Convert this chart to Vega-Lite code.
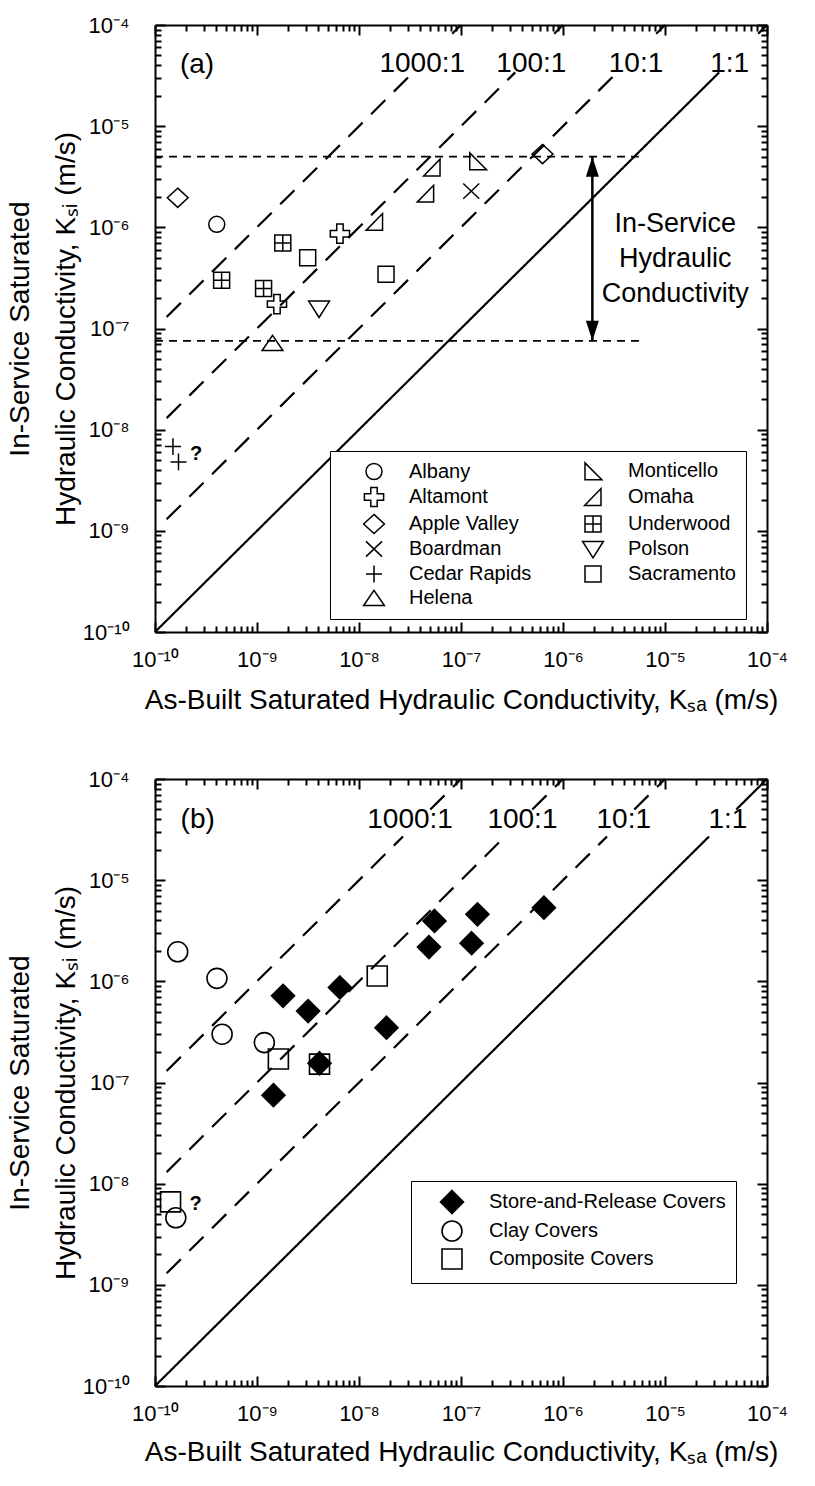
{
  "$schema": "https://vega.github.io/schema/vega-lite/v6.json",
  "padding": {"left": 6, "top": 14, "right": 5, "bottom": 5},
  "spacing": 54,
  "resolve": {"scale": {"shape": "independent", "strokeDash": "independent"}, "legend": {"shape": "independent"}},
  "config": {
    "font": "Liberation Sans",
    "view": {"stroke": null},
    "axis": {"domainColor": "black", "domainWidth": 2, "tickColor": "black", "tickWidth": 2, "labelColor": "black", "titleColor": "black", "labelFontSize": 22, "titleFontSize": 28, "titleFontWeight": "normal", "grid": false, "labelOverlap": false, "labelFlush": false}
  },
  "vconcat": [
    {
      "width": 612,
      "height": 607,
      "resolve": {"axis": {"x": "independent", "y": "independent"}},
      "layer": [
        {
          "data": {"values": [
            {"seg": "a1", "style": "solid", "x": 1e-10, "y": 1e-10}, {"seg": "a1", "style": "solid", "x": 3.4e-5, "y": 3.4e-5},
            {"seg": "a2", "style": "solid", "x": 8.2e-5, "y": 8.2e-5}, {"seg": "a2", "style": "solid", "x": 1e-4, "y": 1e-4},
            {"seg": "b1", "style": "dashed", "x": 1.3e-10, "y": 1.3e-9}, {"seg": "b1", "style": "dashed", "x": 3.4e-6, "y": 3.4e-5},
            {"seg": "b2", "style": "dashed", "x": 8.2e-6, "y": 8.2e-5}, {"seg": "b2", "style": "dashed", "x": 1e-5, "y": 1e-4},
            {"seg": "c1", "style": "dashed", "x": 1.3e-10, "y": 1.3e-8}, {"seg": "c1", "style": "dashed", "x": 3.4e-7, "y": 3.4e-5},
            {"seg": "c2", "style": "dashed", "x": 8.2e-7, "y": 8.2e-5}, {"seg": "c2", "style": "dashed", "x": 1e-6, "y": 1e-4},
            {"seg": "d1", "style": "dashed", "x": 1.3e-10, "y": 1.3e-7}, {"seg": "d1", "style": "dashed", "x": 3.4e-8, "y": 3.4e-5},
            {"seg": "d2", "style": "dashed", "x": 8.2e-8, "y": 8.2e-5}, {"seg": "d2", "style": "dashed", "x": 1e-7, "y": 1e-4}
          ]},
          "mark": {"type": "line", "color": "black", "strokeWidth": 2.2},
          "encoding": {
            "x": {"field": "x", "type": "quantitative", "scale": {"type": "log", "domain": [1e-10, 1e-4], "nice": false},
              "axis": {"orient": "bottom", "values": [1e-10,2e-10,3e-10,4e-10,5e-10,6e-10,7e-10,8e-10,9e-10,1e-9,2e-9,3e-9,4e-9,5e-9,6e-9,7e-9,8e-9,9e-9,1e-8,2e-8,3e-8,4e-8,5e-8,6e-8,7e-8,8e-8,9e-8,1e-7,2e-7,3e-7,4e-7,5e-7,6e-7,7e-7,8e-7,9e-7,1e-6,2e-6,3e-6,4e-6,5e-6,6e-6,7e-6,8e-6,9e-6,1e-5,2e-5,3e-5,4e-5,5e-5,6e-5,7e-5,8e-5,9e-5,1e-4],
                "labelExpr": "abs(log(datum.value)/LN10 - round(log(datum.value)/LN10)) < 0.001 ? '10' + ['⁻¹⁰','⁻⁹','⁻⁸','⁻⁷','⁻⁶','⁻⁵','⁻⁴'][round(log(datum.value)/LN10) + 10] : ''",
                "tickSize": {"condition": {"test": "abs(log(datum.value)/LN10 - round(log(datum.value)/LN10)) < 0.001", "value": -10}, "value": -6},
                "labelFontSize": 22, "labelPadding": 27, "title": "As-Built Saturated Hydraulic Conductivity, Kₛₐ (m/s)", "titlePadding": 12}},
            "y": {"field": "y", "type": "quantitative", "scale": {"type": "log", "domain": [1e-10, 1e-4], "nice": false},
              "axis": {"orient": "left", "values": [1e-10,2e-10,3e-10,4e-10,5e-10,6e-10,7e-10,8e-10,9e-10,1e-9,2e-9,3e-9,4e-9,5e-9,6e-9,7e-9,8e-9,9e-9,1e-8,2e-8,3e-8,4e-8,5e-8,6e-8,7e-8,8e-8,9e-8,1e-7,2e-7,3e-7,4e-7,5e-7,6e-7,7e-7,8e-7,9e-7,1e-6,2e-6,3e-6,4e-6,5e-6,6e-6,7e-6,8e-6,9e-6,1e-5,2e-5,3e-5,4e-5,5e-5,6e-5,7e-5,8e-5,9e-5,1e-4],
                "labelExpr": "abs(log(datum.value)/LN10 - round(log(datum.value)/LN10)) < 0.001 ? '10' + ['⁻¹⁰','⁻⁹','⁻⁸','⁻⁷','⁻⁶','⁻⁵','⁻⁴'][round(log(datum.value)/LN10) + 10] : ''",
                "tickSize": {"condition": {"test": "abs(log(datum.value)/LN10 - round(log(datum.value)/LN10)) < 0.001", "value": -10}, "value": -6},
                "labelFontSize": 22, "labelPadding": 36, "title": ["In-Service Saturated", "Hydraulic Conductivity, Kₛᵢ (m/s)"], "titleLineHeight": 46, "titlePadding": 2}},
            "detail": {"field": "seg"},
            "strokeDash": {"field": "style", "type": "nominal", "scale": {"domain": ["solid", "dashed"], "range": [[1, 0], [20, 12]]}, "legend": null}
          }
        },
        {
          "data": {"values": [
            {"city": "Albany", "x": 4.03e-10, "y": 1.07e-6},
            {"city": "Altamont", "x": 6.5e-9, "y": 8.65e-7},
            {"city": "Altamont", "x": 1.57e-9, "y": 1.74e-7},
            {"city": "Apple Valley", "x": 1.67e-10, "y": 1.96e-6},
            {"city": "Apple Valley", "x": 6.3e-7, "y": 5.3e-6},
            {"city": "Boardman", "x": 1.26e-7, "y": 2.28e-6},
            {"city": "Cedar Rapids", "x": 1.5e-10, "y": 6.8e-9},
            {"city": "Cedar Rapids", "x": 1.7e-10, "y": 4.8e-9},
            {"city": "Helena", "x": 1.42e-9, "y": 7.2e-8},
            {"city": "Monticello", "x": 1.46e-7, "y": 4.5e-6},
            {"city": "Omaha", "x": 5.2e-8, "y": 3.9e-6},
            {"city": "Omaha", "x": 4.5e-8, "y": 2.15e-6},
            {"city": "Omaha", "x": 1.42e-8, "y": 1.13e-6},
            {"city": "Underwood", "x": 1.79e-9, "y": 7.0e-7},
            {"city": "Underwood", "x": 4.5e-10, "y": 3.0e-7},
            {"city": "Underwood", "x": 1.16e-9, "y": 2.48e-7},
            {"city": "Polson", "x": 4.06e-9, "y": 1.57e-7},
            {"city": "Sacramento", "x": 3.14e-9, "y": 5.0e-7},
            {"city": "Sacramento", "x": 1.84e-8, "y": 3.44e-7}
          ]},
          "mark": {"type": "point", "filled": false, "color": "black", "strokeWidth": 1.5, "size": 256, "opacity": 1},
          "encoding": {
            "x": {"field": "x", "type": "quantitative", "scale": {"type": "log", "domain": [1e-10, 1e-4], "nice": false},
              "axis": {"orient": "top", "values": [1e-10,2e-10,3e-10,4e-10,5e-10,6e-10,7e-10,8e-10,9e-10,1e-9,2e-9,3e-9,4e-9,5e-9,6e-9,7e-9,8e-9,9e-9,1e-8,2e-8,3e-8,4e-8,5e-8,6e-8,7e-8,8e-8,9e-8,1e-7,2e-7,3e-7,4e-7,5e-7,6e-7,7e-7,8e-7,9e-7,1e-6,2e-6,3e-6,4e-6,5e-6,6e-6,7e-6,8e-6,9e-6,1e-5,2e-5,3e-5,4e-5,5e-5,6e-5,7e-5,8e-5,9e-5,1e-4],
                "labels": false, "title": null,
                "tickSize": {"condition": {"test": "abs(log(datum.value)/LN10 - round(log(datum.value)/LN10)) < 0.001", "value": -10}, "value": -6}}},
            "y": {"field": "y", "type": "quantitative", "scale": {"type": "log", "domain": [1e-10, 1e-4], "nice": false},
              "axis": {"orient": "right", "values": [1e-10,2e-10,3e-10,4e-10,5e-10,6e-10,7e-10,8e-10,9e-10,1e-9,2e-9,3e-9,4e-9,5e-9,6e-9,7e-9,8e-9,9e-9,1e-8,2e-8,3e-8,4e-8,5e-8,6e-8,7e-8,8e-8,9e-8,1e-7,2e-7,3e-7,4e-7,5e-7,6e-7,7e-7,8e-7,9e-7,1e-6,2e-6,3e-6,4e-6,5e-6,6e-6,7e-6,8e-6,9e-6,1e-5,2e-5,3e-5,4e-5,5e-5,6e-5,7e-5,8e-5,9e-5,1e-4],
                "labels": false, "title": null,
                "tickSize": {"condition": {"test": "abs(log(datum.value)/LN10 - round(log(datum.value)/LN10)) < 0.001", "value": -10}, "value": -6}}},
            "shape": {"field": "city", "type": "nominal",
              "scale": {
                "domain": ["Albany", "Altamont", "Apple Valley", "Boardman", "Cedar Rapids", "Helena", "Monticello", "Omaha", "Underwood", "Polson", "Sacramento"],
                "range": [
                  "circle",
                  "M-0.4,-1.2L0.4,-1.2L0.4,-0.4L1.2,-0.4L1.2,0.4L0.4,0.4L0.4,1.2L-0.4,1.2L-0.4,0.4L-1.2,0.4L-1.2,-0.4L-0.4,-0.4Z",
                  "M0,-1.2L1.3,0L0,1.2L-1.3,0Z",
                  "M-1,-0.95L1,0.95M-1,0.95L1,-0.95",
                  "M-1,0L1,0M0,-1.05L0,1.05",
                  "M0,-0.95L1.3,0.95L-1.3,0.95Z",
                  "M-1,-1.05L-1,1.05L1.1,1.05Z",
                  "M1,-1.05L1,1.05L-1.05,1.05Z",
                  "M-1,-1L1,-1L1,1L-1,1ZM0,-1L0,1M-1,0L1,0",
                  "M-1.3,-0.95L1.3,-0.95L0,1.1Z",
                  "M-1,-1L1,-1L1,1L-1,1Z"
                ]},
              "legend": {"title": null, "orient": "none", "legendX": 175, "legendY": 426, "columns": 2, "padding": 10, "symbolOffset": 24, "labelOffset": 25, "columnPadding": 27, "rowPadding": 1, "symbolSize": 256, "symbolStrokeWidth": 1.5, "symbolStrokeColor": "black", "symbolFillColor": "transparent", "labelFontSize": 20, "labelColor": "black", "labelLimit": 400, "strokeColor": "black", "fillColor": "white"}}
          }
        },
        {
          "data": {"values": [
            {"y": 5e-6, "x": 1e-10, "x2": 5.7e-6},
            {"y": 7.55e-8, "x": 1e-10, "x2": 5.7e-6}
          ]},
          "mark": {"type": "rule", "color": "black", "strokeWidth": 1.8, "strokeDash": [8, 6]},
          "encoding": {
            "x": {"field": "x", "type": "quantitative", "scale": {"type": "log", "domain": [1e-10, 1e-4], "nice": false}, "axis": null},
            "x2": {"field": "x2"},
            "y": {"field": "y", "type": "quantitative", "scale": {"type": "log", "domain": [1e-10, 1e-4], "nice": false}, "axis": null}
          }
        },
        {
          "data": {"values": [{"x": 1.94e-6, "y": 5e-6, "y2": 7.55e-8}]},
          "mark": {"type": "rule", "color": "black", "strokeWidth": 2.5},
          "encoding": {
            "x": {"field": "x", "type": "quantitative", "scale": {"type": "log", "domain": [1e-10, 1e-4], "nice": false}, "axis": null},
            "y": {"field": "y", "type": "quantitative", "scale": {"type": "log", "domain": [1e-10, 1e-4], "nice": false}, "axis": null},
            "y2": {"field": "y2"}
          }
        },
        {
          "data": {"values": [{"x": 1.94e-6, "y": 3.98e-6}]},
          "mark": {"type": "point", "shape": "M0,-1L0.65,1L-0.65,1Z", "filled": true, "color": "black", "size": 400, "opacity": 1},
          "encoding": {
            "x": {"field": "x", "type": "quantitative", "scale": {"type": "log", "domain": [1e-10, 1e-4], "nice": false}, "axis": null},
            "y": {"field": "y", "type": "quantitative", "scale": {"type": "log", "domain": [1e-10, 1e-4], "nice": false}, "axis": null}
          }
        },
        {
          "data": {"values": [{"x": 1.94e-6, "y": 9.48e-8}]},
          "mark": {"type": "point", "shape": "M0,1L0.65,-1L-0.65,-1Z", "filled": true, "color": "black", "size": 400, "opacity": 1},
          "encoding": {
            "x": {"field": "x", "type": "quantitative", "scale": {"type": "log", "domain": [1e-10, 1e-4], "nice": false}, "axis": null},
            "y": {"field": "y", "type": "quantitative", "scale": {"type": "log", "domain": [1e-10, 1e-4], "nice": false}, "axis": null}
          }
        },
        {
          "data": {"values": [
            {"t": "1000:1", "x": 4.17e-8, "y": 4.15e-5},
            {"t": "100:1", "x": 4.9e-7, "y": 4.15e-5},
            {"t": "10:1", "x": 5.2e-6, "y": 4.15e-5},
            {"t": "1:1", "x": 4.3e-5, "y": 4.15e-5},
            {"t": "(a)", "x": 2.58e-10, "y": 4.0e-5}
          ]},
          "mark": {"type": "text", "fontSize": 28, "align": "center", "baseline": "middle", "color": "black"},
          "encoding": {
            "x": {"field": "x", "type": "quantitative", "scale": {"type": "log", "domain": [1e-10, 1e-4], "nice": false}, "axis": null},
            "y": {"field": "y", "type": "quantitative", "scale": {"type": "log", "domain": [1e-10, 1e-4], "nice": false}, "axis": null},
            "text": {"field": "t"}
          }
        },
        {
          "data": {"values": [{"t": "?", "x": 2.53e-10, "y": 5.8e-9}]},
          "mark": {"type": "text", "fontSize": 20, "fontWeight": "bold", "align": "center", "baseline": "middle", "color": "black"},
          "encoding": {
            "x": {"field": "x", "type": "quantitative", "scale": {"type": "log", "domain": [1e-10, 1e-4], "nice": false}, "axis": null},
            "y": {"field": "y", "type": "quantitative", "scale": {"type": "log", "domain": [1e-10, 1e-4], "nice": false}, "axis": null},
            "text": {"field": "t"}
          }
        },
        {
          "data": {"values": [{"t": "In-Service\nHydraulic\nConductivity", "x": 1.26e-5, "y": 8.97e-7}]},
          "mark": {"type": "text", "fontSize": 27, "align": "center", "baseline": "alphabetic", "lineBreak": "\n", "lineHeight": 35, "color": "black"},
          "encoding": {
            "x": {"field": "x", "type": "quantitative", "scale": {"type": "log", "domain": [1e-10, 1e-4], "nice": false}, "axis": null},
            "y": {"field": "y", "type": "quantitative", "scale": {"type": "log", "domain": [1e-10, 1e-4], "nice": false}, "axis": null},
            "text": {"field": "t"}
          }
        }
      ]
    },
    {
      "width": 612,
      "height": 607,
      "resolve": {"axis": {"x": "independent", "y": "independent"}},
      "layer": [
        {
          "data": {"values": [
            {"seg": "a1", "style": "solid", "x": 1e-10, "y": 1e-10}, {"seg": "a1", "style": "solid", "x": 2.7e-5, "y": 2.7e-5},
            {"seg": "a2", "style": "solid", "x": 5e-5, "y": 5e-5}, {"seg": "a2", "style": "solid", "x": 1e-4, "y": 1e-4},
            {"seg": "b1", "style": "dashed", "x": 1.3e-10, "y": 1.3e-9}, {"seg": "b1", "style": "dashed", "x": 2.7e-6, "y": 2.7e-5},
            {"seg": "b2", "style": "dashed", "x": 5e-6, "y": 5e-5}, {"seg": "b2", "style": "dashed", "x": 1e-5, "y": 1e-4},
            {"seg": "c1", "style": "dashed", "x": 1.3e-10, "y": 1.3e-8}, {"seg": "c1", "style": "dashed", "x": 2.7e-7, "y": 2.7e-5},
            {"seg": "c2", "style": "dashed", "x": 5e-7, "y": 5e-5}, {"seg": "c2", "style": "dashed", "x": 1e-6, "y": 1e-4},
            {"seg": "d1", "style": "dashed", "x": 1.3e-10, "y": 1.3e-7}, {"seg": "d1", "style": "dashed", "x": 2.7e-8, "y": 2.7e-5},
            {"seg": "d2", "style": "dashed", "x": 5e-8, "y": 5e-5}, {"seg": "d2", "style": "dashed", "x": 1e-7, "y": 1e-4}
          ]},
          "mark": {"type": "line", "color": "black", "strokeWidth": 2.2},
          "encoding": {
            "x": {"field": "x", "type": "quantitative", "scale": {"type": "log", "domain": [1e-10, 1e-4], "nice": false},
              "axis": {"orient": "bottom", "values": [1e-10,2e-10,3e-10,4e-10,5e-10,6e-10,7e-10,8e-10,9e-10,1e-9,2e-9,3e-9,4e-9,5e-9,6e-9,7e-9,8e-9,9e-9,1e-8,2e-8,3e-8,4e-8,5e-8,6e-8,7e-8,8e-8,9e-8,1e-7,2e-7,3e-7,4e-7,5e-7,6e-7,7e-7,8e-7,9e-7,1e-6,2e-6,3e-6,4e-6,5e-6,6e-6,7e-6,8e-6,9e-6,1e-5,2e-5,3e-5,4e-5,5e-5,6e-5,7e-5,8e-5,9e-5,1e-4],
                "labelExpr": "abs(log(datum.value)/LN10 - round(log(datum.value)/LN10)) < 0.001 ? '10' + ['⁻¹⁰','⁻⁹','⁻⁸','⁻⁷','⁻⁶','⁻⁵','⁻⁴'][round(log(datum.value)/LN10) + 10] : ''",
                "tickSize": {"condition": {"test": "abs(log(datum.value)/LN10 - round(log(datum.value)/LN10)) < 0.001", "value": -10}, "value": -6},
                "labelFontSize": 22, "labelPadding": 27, "title": "As-Built Saturated Hydraulic Conductivity, Kₛₐ (m/s)", "titlePadding": 10}},
            "y": {"field": "y", "type": "quantitative", "scale": {"type": "log", "domain": [1e-10, 1e-4], "nice": false},
              "axis": {"orient": "left", "values": [1e-10,2e-10,3e-10,4e-10,5e-10,6e-10,7e-10,8e-10,9e-10,1e-9,2e-9,3e-9,4e-9,5e-9,6e-9,7e-9,8e-9,9e-9,1e-8,2e-8,3e-8,4e-8,5e-8,6e-8,7e-8,8e-8,9e-8,1e-7,2e-7,3e-7,4e-7,5e-7,6e-7,7e-7,8e-7,9e-7,1e-6,2e-6,3e-6,4e-6,5e-6,6e-6,7e-6,8e-6,9e-6,1e-5,2e-5,3e-5,4e-5,5e-5,6e-5,7e-5,8e-5,9e-5,1e-4],
                "labelExpr": "abs(log(datum.value)/LN10 - round(log(datum.value)/LN10)) < 0.001 ? '10' + ['⁻¹⁰','⁻⁹','⁻⁸','⁻⁷','⁻⁶','⁻⁵','⁻⁴'][round(log(datum.value)/LN10) + 10] : ''",
                "tickSize": {"condition": {"test": "abs(log(datum.value)/LN10 - round(log(datum.value)/LN10)) < 0.001", "value": -10}, "value": -6},
                "labelFontSize": 22, "labelPadding": 36, "title": ["In-Service Saturated", "Hydraulic Conductivity, Kₛᵢ (m/s)"], "titleLineHeight": 46, "titlePadding": 2}},
            "detail": {"field": "seg"},
            "strokeDash": {"field": "style", "type": "nominal", "scale": {"domain": ["solid", "dashed"], "range": [[1, 0], [20, 12]]}, "legend": null}
          }
        },
        {
          "data": {"values": [
            {"cover": "Clay Covers", "x": 1.67e-10, "y": 1.96e-6},
            {"cover": "Clay Covers", "x": 4.05e-10, "y": 1.07e-6},
            {"cover": "Clay Covers", "x": 4.55e-10, "y": 3.0e-7},
            {"cover": "Clay Covers", "x": 1.18e-9, "y": 2.48e-7},
            {"cover": "Clay Covers", "x": 1.6e-10, "y": 4.6e-9},
            {"cover": "Composite Covers", "x": 1.62e-9, "y": 1.71e-7},
            {"cover": "Composite Covers", "x": 1.51e-8, "y": 1.13e-6},
            {"cover": "Composite Covers", "x": 1.42e-10, "y": 6.6e-9},
            {"cover": "Store-and-Release Covers", "x": 1.8e-9, "y": 7.2e-7},
            {"cover": "Store-and-Release Covers", "x": 3.17e-9, "y": 5.08e-7},
            {"cover": "Store-and-Release Covers", "x": 6.5e-9, "y": 8.7e-7},
            {"cover": "Store-and-Release Covers", "x": 1.86e-8, "y": 3.48e-7},
            {"cover": "Store-and-Release Covers", "x": 4.85e-8, "y": 2.18e-6},
            {"cover": "Store-and-Release Covers", "x": 5.5e-8, "y": 3.95e-6},
            {"cover": "Store-and-Release Covers", "x": 1.27e-7, "y": 2.38e-6},
            {"cover": "Store-and-Release Covers", "x": 1.45e-7, "y": 4.6e-6},
            {"cover": "Store-and-Release Covers", "x": 6.5e-7, "y": 5.35e-6},
            {"cover": "Store-and-Release Covers", "x": 4.1e-9, "y": 1.55e-7},
            {"cover": "Store-and-Release Covers", "x": 1.45e-9, "y": 7.5e-8},
            {"cover": "Composite Covers", "x": 4.1e-9, "y": 1.52e-7}
          ]},
          "mark": {"type": "point", "filled": false, "color": "black", "strokeWidth": 1.6, "size": 400, "opacity": 1},
          "encoding": {
            "x": {"field": "x", "type": "quantitative", "scale": {"type": "log", "domain": [1e-10, 1e-4], "nice": false},
              "axis": {"orient": "top", "values": [1e-10,2e-10,3e-10,4e-10,5e-10,6e-10,7e-10,8e-10,9e-10,1e-9,2e-9,3e-9,4e-9,5e-9,6e-9,7e-9,8e-9,9e-9,1e-8,2e-8,3e-8,4e-8,5e-8,6e-8,7e-8,8e-8,9e-8,1e-7,2e-7,3e-7,4e-7,5e-7,6e-7,7e-7,8e-7,9e-7,1e-6,2e-6,3e-6,4e-6,5e-6,6e-6,7e-6,8e-6,9e-6,1e-5,2e-5,3e-5,4e-5,5e-5,6e-5,7e-5,8e-5,9e-5,1e-4],
                "labels": false, "title": null,
                "tickSize": {"condition": {"test": "abs(log(datum.value)/LN10 - round(log(datum.value)/LN10)) < 0.001", "value": -10}, "value": -6}}},
            "y": {"field": "y", "type": "quantitative", "scale": {"type": "log", "domain": [1e-10, 1e-4], "nice": false},
              "axis": {"orient": "right", "values": [1e-10,2e-10,3e-10,4e-10,5e-10,6e-10,7e-10,8e-10,9e-10,1e-9,2e-9,3e-9,4e-9,5e-9,6e-9,7e-9,8e-9,9e-9,1e-8,2e-8,3e-8,4e-8,5e-8,6e-8,7e-8,8e-8,9e-8,1e-7,2e-7,3e-7,4e-7,5e-7,6e-7,7e-7,8e-7,9e-7,1e-6,2e-6,3e-6,4e-6,5e-6,6e-6,7e-6,8e-6,9e-6,1e-5,2e-5,3e-5,4e-5,5e-5,6e-5,7e-5,8e-5,9e-5,1e-4],
                "labels": false, "title": null,
                "tickSize": {"condition": {"test": "abs(log(datum.value)/LN10 - round(log(datum.value)/LN10)) < 0.001", "value": -10}, "value": -6}}},
            "shape": {"field": "cover", "type": "nominal",
              "scale": {"domain": ["Store-and-Release Covers", "Clay Covers", "Composite Covers"],
                "range": [
                  "M0,-1.15L1.15,0L0,1.15L-1.15,0ZM0,-0.99L0.99,0L0,0.99L-0.99,0ZM0,-0.83L0.83,0L0,0.83L-0.83,0ZM0,-0.67L0.67,0L0,0.67L-0.67,0ZM0,-0.51L0.51,0L0,0.51L-0.51,0ZM0,-0.35L0.35,0L0,0.35L-0.35,0ZM0,-0.19L0.19,0L0,0.19L-0.19,0ZM-0.08,0L0.08,0M0,-0.08L0,0.08",
                  "circle",
                  "square"
                ]},
              "legend": {"title": null, "orient": "none", "legendX": 256, "legendY": 402, "padding": 10, "symbolOffset": 20, "labelOffset": 26, "rowPadding": 0, "symbolSize": 400, "symbolStrokeWidth": 1.6, "symbolStrokeColor": "black", "symbolFillColor": "transparent", "labelFontSize": 20, "labelColor": "black", "labelLimit": 400, "strokeColor": "black", "fillColor": "white"}}
          }
        },
        {
          "data": {"values": [
            {"t": "1000:1", "x": 3.17e-8, "y": 3.95e-5},
            {"t": "100:1", "x": 4.0e-7, "y": 3.95e-5},
            {"t": "10:1", "x": 3.94e-6, "y": 3.95e-5},
            {"t": "1:1", "x": 4.14e-5, "y": 3.95e-5},
            {"t": "(b)", "x": 2.62e-10, "y": 3.95e-5}
          ]},
          "mark": {"type": "text", "fontSize": 28, "align": "center", "baseline": "middle", "color": "black"},
          "encoding": {
            "x": {"field": "x", "type": "quantitative", "scale": {"type": "log", "domain": [1e-10, 1e-4], "nice": false}, "axis": null},
            "y": {"field": "y", "type": "quantitative", "scale": {"type": "log", "domain": [1e-10, 1e-4], "nice": false}, "axis": null},
            "text": {"field": "t"}
          }
        },
        {
          "data": {"values": [{"t": "?", "x": 2.5e-10, "y": 6.3e-9}]},
          "mark": {"type": "text", "fontSize": 20, "fontWeight": "bold", "align": "center", "baseline": "middle", "color": "black"},
          "encoding": {
            "x": {"field": "x", "type": "quantitative", "scale": {"type": "log", "domain": [1e-10, 1e-4], "nice": false}, "axis": null},
            "y": {"field": "y", "type": "quantitative", "scale": {"type": "log", "domain": [1e-10, 1e-4], "nice": false}, "axis": null},
            "text": {"field": "t"}
          }
        }
      ]
    }
  ]
}
